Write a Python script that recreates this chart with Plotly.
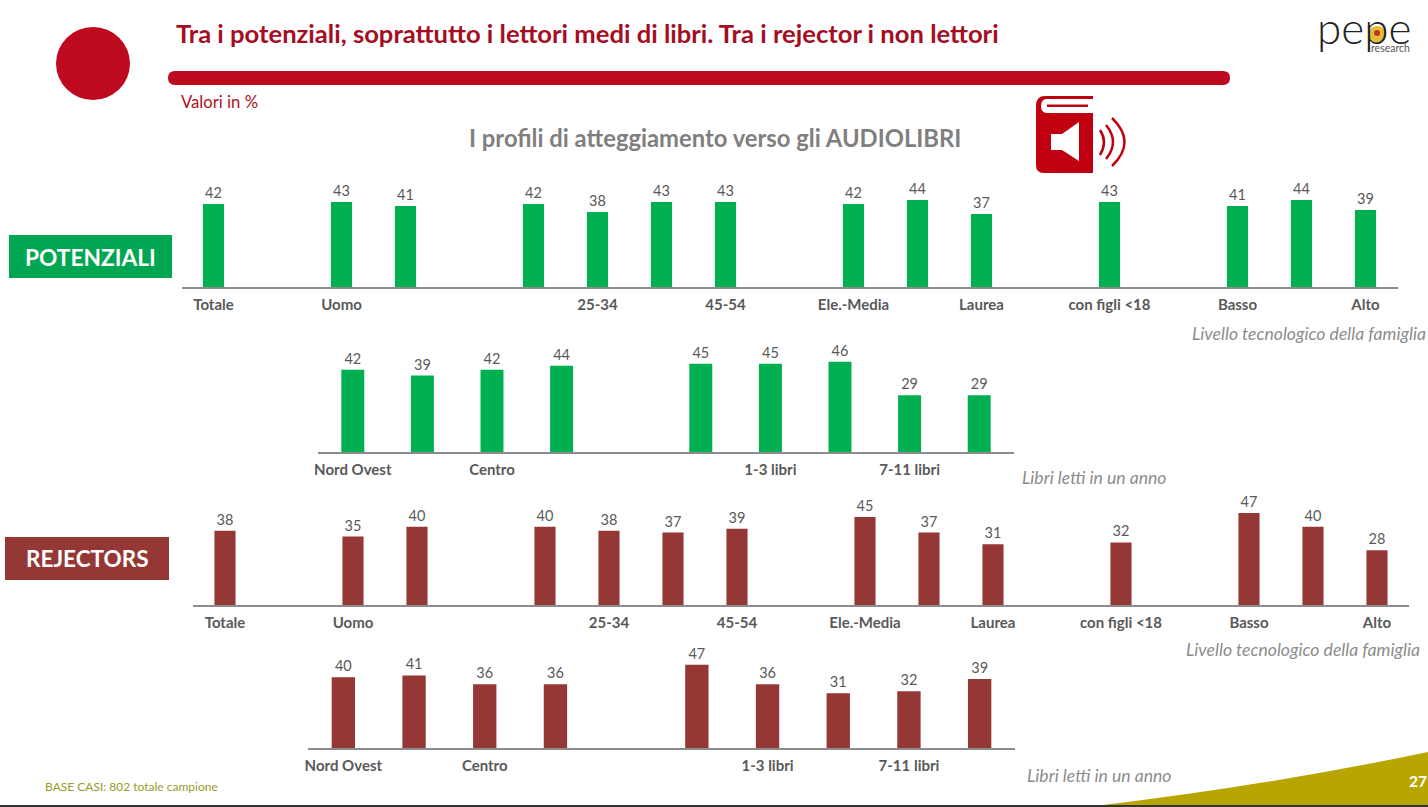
import plotly.graph_objects as go

# Values, None = empty slot between groups
demo_labels = ["Totale", "", "Uomo", "", "", "", "25-34", "", "45-54", "",
               "Ele.-Media", "", "Laurea", "", "con figli <18", "", "Basso", "", "Alto"]
area_labels = ["Nord Ovest", "", "Centro", "", "", "", "1-3 libri", "", "7-11 libri", ""]

potenziali_demo = [42, None, 43, 41, None, 42, 38, 43, 43, None, 42, 44, 37, None, 43, None, 41, 44, 39]
potenziali_libri = [42, 39, 42, 44, None, 45, 45, 46, 29, 29]
rejectors_demo = [38, None, 35, 40, None, 40, 38, 37, 39, None, 45, 37, 31, None, 32, None, 47, 40, 28]
rejectors_libri = [40, 41, 36, 36, None, 47, 36, 31, 32, 39]

W, H = 1428, 807
GREEN = "#00B050"
BROWN = "#953735"
RED = "#B00A1E"
FONT = "Lato"


def px(x):
    return x / W


def py(y):
    return 1 - y / H


def path(*parts):
    # parts are command letters and (x, y) pixel pairs
    out = []
    for p in parts:
        if isinstance(p, str):
            out.append(p)
        else:
            out.append(f"{px(p[0]):.5f},{py(p[1]):.5f}")
    return " ".join(out)


panels = [
    (potenziali_demo, demo_labels, GREEN, 181.5, 1397.5, 287, 1.976),
    (potenziali_libri, area_labels, GREEN, 318, 1014, 452, 1.96),
    (rejectors_demo, demo_labels, BROWN, 193, 1409, 605, 1.957),
    (rejectors_libri, area_labels, BROWN, 308, 1015, 748, 1.77),
]

fig = go.Figure()
layout_axes = {}
for i, (vals, labels, color, x0, x1, base, scale) in enumerate(panels, start=1):
    xs = list(range(len(vals)))
    fig.add_trace(go.Bar(
        x=xs, y=vals, text=vals, textposition="outside", cliponaxis=False,
        textfont=dict(size=14.5, color="#595959", family=FONT),
        marker=dict(color=color, line=dict(width=0)),
        width=0.33, xaxis=f"x{i}", yaxis=f"y{i}", hoverinfo="skip",
    ))
    layout_axes[f"xaxis{i}"] = dict(
        domain=[px(x0), px(x1)], range=[-0.5, len(vals) - 0.5], anchor=f"y{i}",
        tickmode="array", tickvals=xs, ticktext=labels,
        tickfont=dict(size=15, color="#595959", family=FONT, weight="bold"),
        ticks="outside", ticklen=3, tickcolor="rgba(0,0,0,0)",
        showline=True, linecolor="#8C8C8C", linewidth=1.5,
        showgrid=False, zeroline=False, fixedrange=True,
    )
    layout_axes[f"yaxis{i}"] = dict(
        domain=[py(base), py(base - 50 * scale)], range=[0, 50], anchor=f"x{i}",
        visible=False, fixedrange=True,
    )

shapes = [
    # seal at top left
    dict(type="circle", x0=px(56), x1=px(130), y0=py(100), y1=py(27), fillcolor="#BE0A1E"),
    # rounded rule under the title
    dict(type="path", fillcolor="#BE0A1E", path=path(
        "M", (175, 71), "L", (1223, 71), "Q", (1230, 71), (1230, 78), "Q", (1230, 85), (1223, 85),
        "L", (175, 85), "Q", (168, 85), (168, 78), "Q", (168, 71), (175, 71), "Z")),
    # side labels
    dict(type="rect", x0=px(9), x1=px(172), y0=py(278), y1=py(235), fillcolor="#00A651"),
    dict(type="rect", x0=px(5), x1=px(169), y0=py(580), y1=py(537), fillcolor=BROWN),
    # audiobook icon
    dict(type="path", fillcolor="#C00010", path=path(
        "M", (1093, 96), "L", (1045, 96), "Q", (1036, 96), (1036, 106), "L", (1036, 165),
        "Q", (1036, 173), (1044, 173), "L", (1093, 173), "Z")),
    dict(type="path", fillcolor="#FFFFFF", path=path(
        "M", (1093, 99), "L", (1046, 99), "Q", (1041, 100), (1041, 106), "Q", (1041, 113), (1047, 113),
        "L", (1093, 113), "Z")),
    dict(type="rect", x0=px(1047), x1=px(1088), y0=py(107), y1=py(104.5), fillcolor="#C00010"),
    dict(type="path", fillcolor="#FFFFFF", path=path(
        "M", (1051, 134), "L", (1062, 134), "L", (1079, 122), "L", (1079, 161), "L", (1062, 150),
        "L", (1051, 150), "Z")),
    dict(type="path", line=dict(color="#C00010", width=2.5), path=path(
        "M", (1100, 130), "Q", (1108, 142), (1100, 155))),
    dict(type="path", line=dict(color="#C00010", width=2.5), path=path(
        "M", (1106, 125), "Q", (1120, 142), (1106, 159))),
    dict(type="path", line=dict(color="#C00010", width=2.5), path=path(
        "M", (1112, 118), "Q", (1137, 142), (1112, 166))),
    # logo dot
    dict(type="circle", x0=px(1368), x1=px(1386), y0=py(43), y1=py(26), fillcolor="#E0BE3C"),
    dict(type="circle", x0=px(1374), x1=px(1380), y0=py(36), y1=py(30), fillcolor="#C8331E"),
    # footer wedge and bottom edge
    dict(type="path", fillcolor="#B8A600", path=path(
        "M", (1103, 805), "Q", (1270, 785), (1428, 752), "L", (1428, 805), "Z")),
    dict(type="rect", x0=0, x1=1, y0=py(807), y1=py(805), fillcolor="#333333"),
]
for s in shapes:
    s.setdefault("line", dict(width=0))
    s["xref"] = "paper"
    s["yref"] = "paper"
    s["layer"] = "below"


def note(x, y, text, size, color, anchor="left", **font):
    return dict(x=px(x), y=py(y), xref="paper", yref="paper", text=text, showarrow=False,
                xanchor=anchor, yanchor="middle", align=anchor,
                font=dict(size=size, color=color, family=FONT, **font))


annotations = [
    note(174, 33, "Tra i potenziali, soprattutto i lettori medi di libri. Tra i rejector i non lettori",
         25.6, "#A50D23", weight="bold"),
    note(179, 102, "Valori in %", 16.7, "#B01020"),
    note(715, 138, "I profili di atteggiamento verso gli AUDIOLIBRI", 23.8, "#7F7F7F", anchor="center", weight="bold"),
    note(90, 257, "POTENZIALI", 22.7, "#FFFFFF", anchor="center", weight="bold"),
    note(87, 558, "REJECTORS", 22.5, "#FFFFFF", anchor="center", weight="bold"),
    note(1428, 333, "Livello tecnologico della famiglia", 17.6, "#8C8C8C", anchor="right", style="italic"),
    note(1422, 649, "Livello tecnologico della famiglia", 17.6, "#8C8C8C", anchor="right", style="italic"),
    note(1020, 477, "Libri letti in un anno", 17.6, "#8C8C8C", style="italic"),
    note(1025, 775, "Libri letti in un anno", 17.6, "#8C8C8C", style="italic"),
    note(43, 786, "BASE CASI: 802 totale campione", 12, "#9A9A2A"),
    note(1407, 781, "27", 15.5, "#FFFFFF", weight="bold"),
    note(1315, 27, "pepe", 44, "#222222", weight=300),
    note(1369, 48, "research", 10.5, "#555555"),
]

fig.update_layout(
    width=W, height=H, margin=dict(l=0, r=0, t=0, b=0, autoexpand=False),
    paper_bgcolor="white", plot_bgcolor="rgba(0,0,0,0)",
    showlegend=False, shapes=shapes, annotations=annotations,
    font=dict(family=FONT), **layout_axes,
)

fig.write_html("out.html", config=dict(displayModeBar=False),
               post_script="document.body.style.margin='0';document.body.style.overflow='hidden';")
